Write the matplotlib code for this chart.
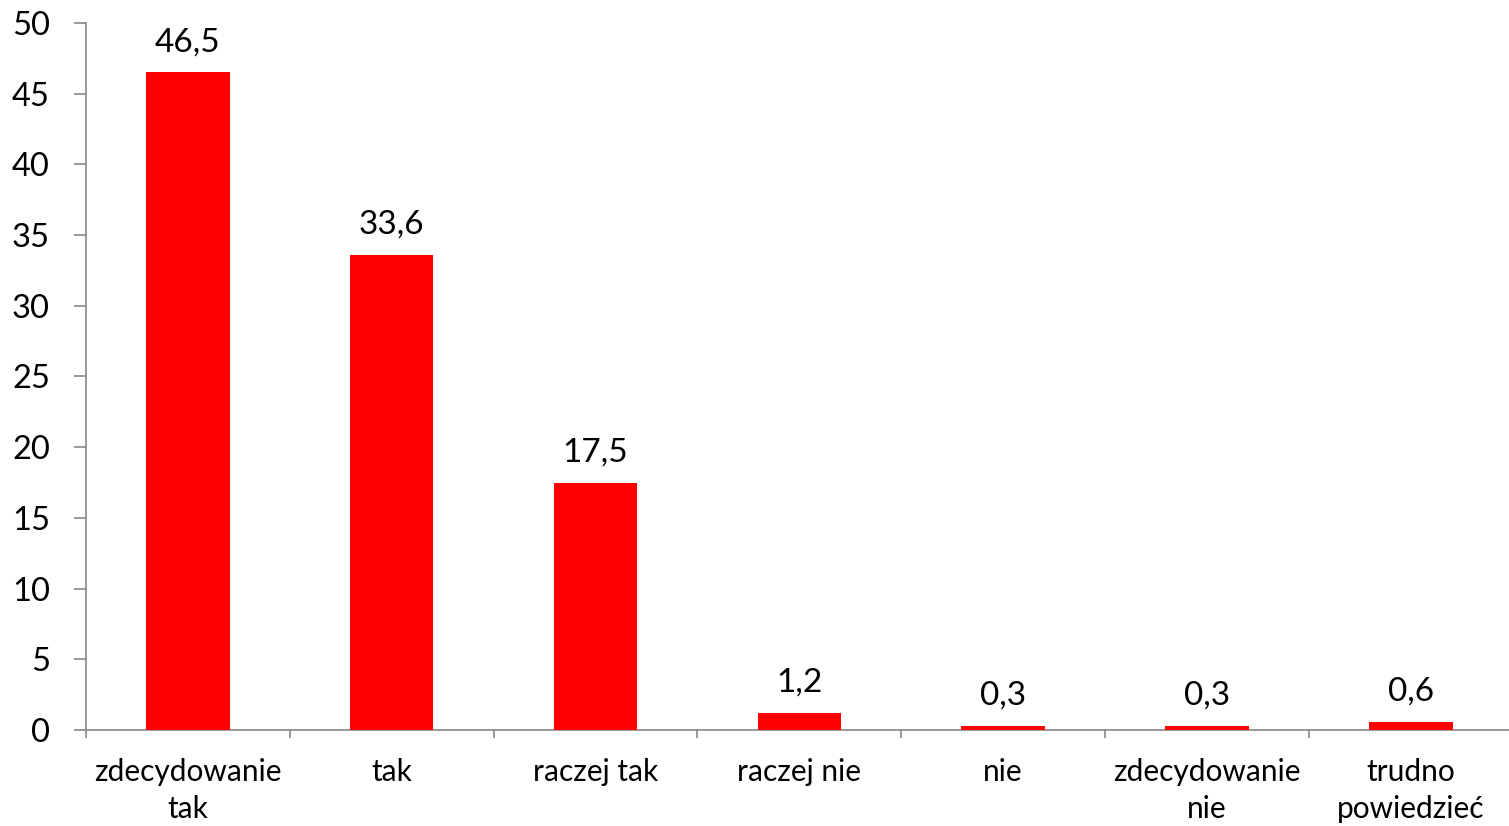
import matplotlib
matplotlib.use("Agg")
import matplotlib.pyplot as plt
import numpy as np

# Data
categories = ["zdecydowanie\ntak", "tak", "raczej tak", "raczej nie", "nie",
              "zdecydowanie\nnie", "trudno\npowiedzieć"]
values = [46.5, 33.6, 17.5, 1.2, 0.3, 0.3, 0.6]
value_labels = ["46,5", "33,6", "17,5", "1,2", "0,3", "0,3", "0,6"]
y_ticks = [0, 5, 10, 15, 20, 25, 30, 35, 40, 45, 50]

plt.rcParams['font.family'] = ['Lato', 'DejaVu Sans']

fig = plt.figure(figsize=(15.09, 8.26), dpi=100)
ax = fig.add_axes([0.057, 0.1162, 0.9454, 0.856])

x = np.arange(len(categories))
ax.bar(x, values, width=0.41, color="#ff0000", zorder=3)

for xi, v, lab in zip(x, values, value_labels):
    ax.annotate(lab, (xi, v), xytext=(0, 11), textcoords="offset points",
                ha="center", va="bottom", fontsize=24, color="black")

ax.set_xlim(-0.5, len(categories) - 0.5)
ax.set_ylim(0, 50)
ax.set_yticks(y_ticks)
ax.set_yticklabels([str(t) for t in y_ticks], fontsize=23.5)

# category labels in the middle, tick marks between categories
ax.set_xticks(np.arange(-0.5, len(categories), 1.0))
ax.set_xticklabels([])
ax.set_xticks(x, minor=True)
ax.set_xticklabels(categories, minor=True, fontsize=21.5, linespacing=1.42)
ax.tick_params(axis="x", which="minor", length=0, pad=20)
ax.tick_params(axis="x", which="major", length=6, width=1.2, color="#888888")
ax.tick_params(axis="y", length=9, width=1.2, color="#888888", pad=17)

for side in ["top", "right"]:
    ax.spines[side].set_visible(False)
for side in ["left", "bottom"]:
    ax.spines[side].set_color("#888888")
    ax.spines[side].set_linewidth(1.2)

fig.savefig("out.png", dpi=100)
